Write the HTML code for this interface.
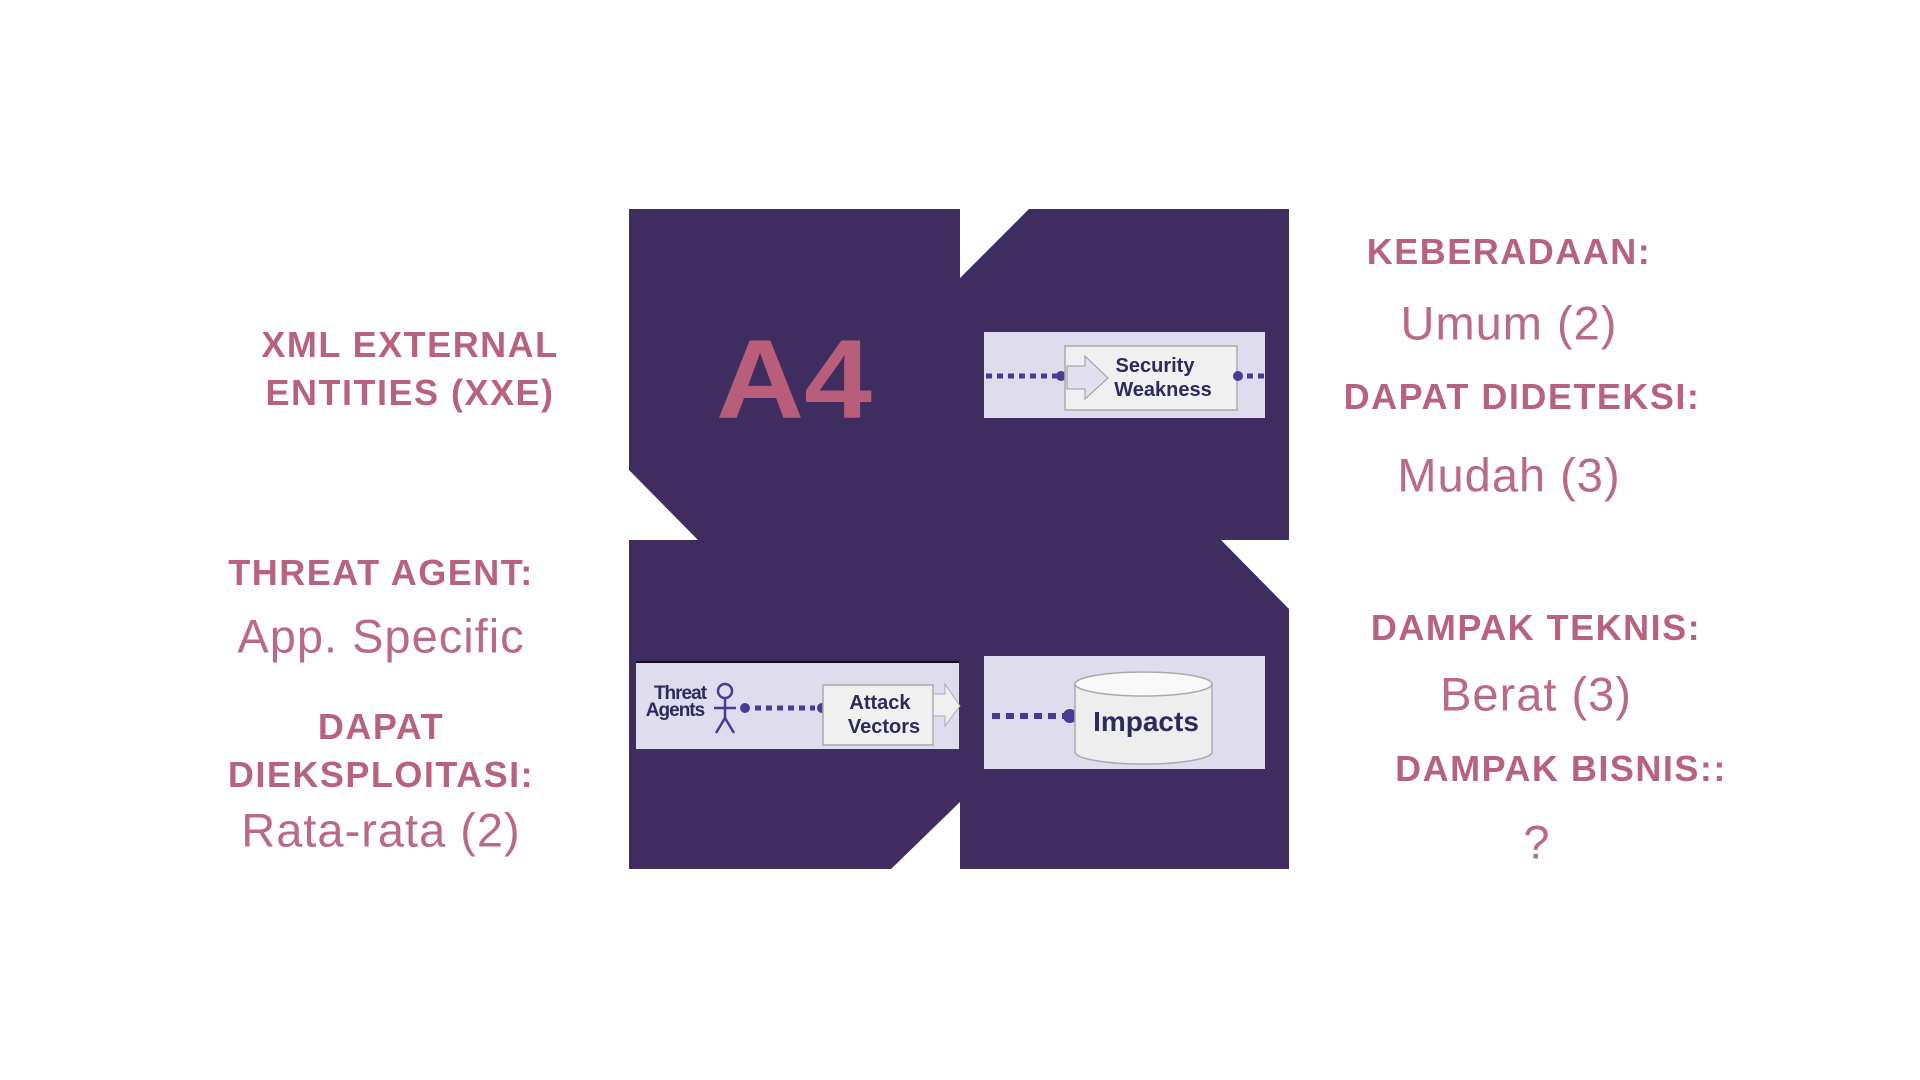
<!DOCTYPE html>
<html><head><meta charset="utf-8"><style>
body{margin:0;width:1920px;height:1080px;background:#fff;position:relative;overflow:hidden;font-family:"Liberation Sans",sans-serif}
.t{position:absolute;transform:translate(-50%,-50%);white-space:nowrap;color:#b8637e;line-height:1}
.h{font-weight:bold;font-size:36px;letter-spacing:1.5px}
.v{font-size:47px;letter-spacing:1px;color:#b96a8a}
svg{position:absolute;left:0;top:0}
</style></head><body>
<svg width="1920" height="1080">
 <g fill="#3f2d5f">
  <polygon points="629,209 960,209 960,540 698,540 629,470"/>
  <polygon points="1029,209 1289,209 1289,540 960,540 960,278"/>
  <polygon points="629,540 960,540 960,802 891,869 629,869"/>
  <polygon points="960,540 1221,540 1289,609 1289,869 960,869"/>
 </g>
 <text x="716" y="418" textLength="156" lengthAdjust="spacingAndGlyphs" font-family="Liberation Sans" font-weight="bold" font-size="112" fill="#b85e7a">A4</text>
 <g>
  <rect x="984" y="332" width="281" height="86" fill="#dfdcee"/>
  <line x1="986" y1="376" x2="1058" y2="376" stroke="#4a3a93" stroke-width="5" stroke-dasharray="6,5"/>
  <circle cx="1061" cy="376" r="5" fill="#4a3a93"/>
  <rect x="1065" y="346" width="172" height="64" fill="#f0f0f0" stroke="#aaa" stroke-width="1.5"/>
  <polygon points="1067,366 1085,366 1085,356 1108,378 1085,399 1085,389 1067,389" fill="#e2e0f0" stroke="#999"/>
  <text x="1155" y="372" text-anchor="middle" font-weight="bold" font-size="20" fill="#2d2a5e">Security</text>
  <text x="1163" y="396" text-anchor="middle" font-weight="bold" font-size="20" fill="#2d2a5e">Weakness</text>
  <circle cx="1238" cy="376" r="5" fill="#4a3a93"/>
  <line x1="1247" y1="376" x2="1265" y2="376" stroke="#4a3a93" stroke-width="5" stroke-dasharray="6,5"/>
 </g>
 <g>
  <rect x="636" y="661" width="323" height="88" fill="#dfdcee"/>
  <line x1="636" y1="662" x2="959" y2="662" stroke="#111" stroke-width="2"/>
  <text x="680" y="699" text-anchor="middle" font-weight="bold" font-size="19" fill="#2d2a5e" letter-spacing="-1">Threat</text>
  <text x="675" y="716" text-anchor="middle" font-weight="bold" font-size="19" fill="#2d2a5e" letter-spacing="-1">Agents</text>
  <g stroke="#4a3a93" stroke-width="2.5" fill="none">
   <circle cx="725" cy="691" r="7"/>
   <line x1="725" y1="698" x2="725" y2="718"/>
   <line x1="714" y1="708" x2="736" y2="708"/>
   <line x1="725" y1="718" x2="716" y2="733"/>
   <line x1="725" y1="718" x2="734" y2="733"/>
  </g>
  <circle cx="745" cy="708" r="5" fill="#4a3a93"/>
  <line x1="755" y1="708" x2="815" y2="708" stroke="#4a3a93" stroke-width="5" stroke-dasharray="6,5"/>
  <circle cx="822" cy="708" r="5" fill="#4a3a93"/>
  <polygon points="930,694 945,694 945,684 960,706 945,726 945,716 930,716" fill="#f0f0f0" stroke="#aaa"/>
  <rect x="823" y="685" width="110" height="60" fill="#f0f0f0" stroke="#aaa" stroke-width="1.5"/>
  <text x="880" y="709" text-anchor="middle" font-weight="bold" font-size="20" fill="#2d2a5e">Attack</text>
  <text x="884" y="733" text-anchor="middle" font-weight="bold" font-size="20" fill="#2d2a5e">Vectors</text>
 </g>
 <g>
  <rect x="984" y="656" width="281" height="113" fill="#dfdcee"/>
  <line x1="992" y1="716" x2="1064" y2="716" stroke="#4a3a93" stroke-width="6" stroke-dasharray="8,6"/>
  <circle cx="1070" cy="716" r="7" fill="#4a3a93"/>
  <path d="M1075,684 L1075,752 A68,12 0 0 0 1212,752 L1212,684 Z" fill="#eeeeee" stroke="#aaa" stroke-width="1.5"/>
  <ellipse cx="1143.5" cy="684" rx="68.5" ry="12" fill="#f8f8f8" stroke="#aaa" stroke-width="1.5"/>
  <text x="1146" y="731" text-anchor="middle" font-weight="bold" font-size="28" fill="#2d2a5e">Impacts</text>
 </g>
</svg>
<div class="t h" style="left:410px;top:345px">XML EXTERNAL</div>
<div class="t h" style="left:410px;top:393px">ENTITIES (XXE)</div>
<div class="t h" style="left:381px;top:573px">THREAT AGENT:</div>
<div class="t v" style="left:381px;top:636px">App. Specific</div>
<div class="t h" style="left:381px;top:727px">DAPAT</div>
<div class="t h" style="left:381px;top:775px">DIEKSPLOITASI:</div>
<div class="t v" style="left:381px;top:830px">Rata-rata (2)</div>
<div class="t h" style="left:1509px;top:252px">KEBERADAAN:</div>
<div class="t v" style="left:1509px;top:323px">Umum (2)</div>
<div class="t h" style="left:1522px;top:397px">DAPAT DIDETEKSI:</div>
<div class="t v" style="left:1509px;top:475px">Mudah (3)</div>
<div class="t h" style="left:1536px;top:628px">DAMPAK TEKNIS:</div>
<div class="t v" style="left:1536px;top:694px">Berat (3)</div>
<div class="t h" style="left:1561px;top:769px">DAMPAK BISNIS::</div>
<div class="t v" style="left:1537px;top:842px">?</div>
</body></html>
